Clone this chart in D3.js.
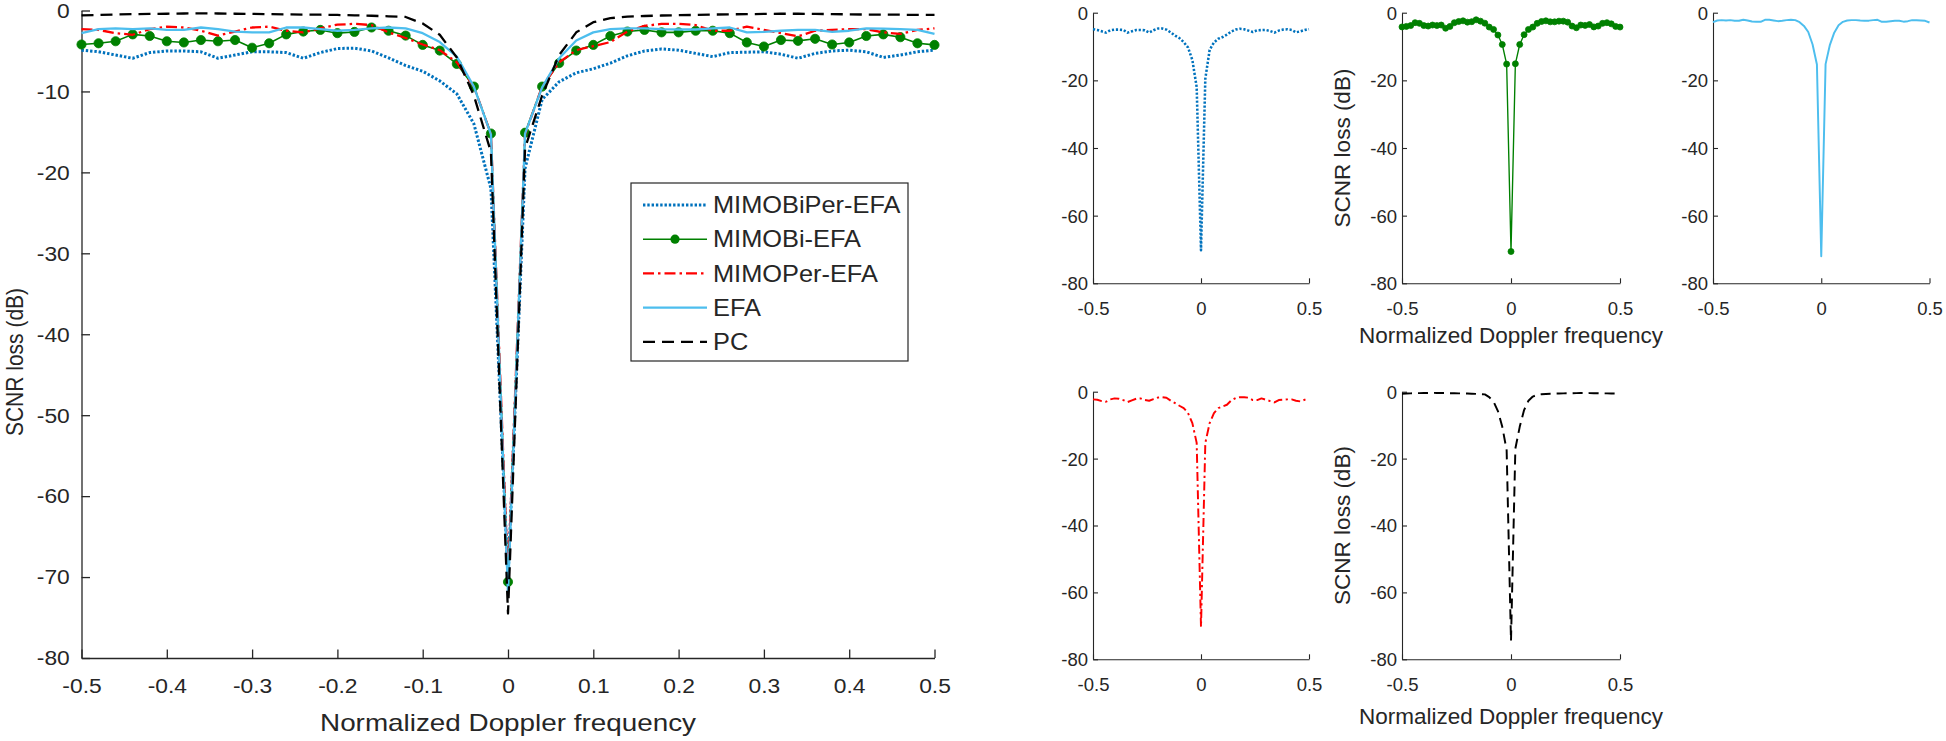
<!DOCTYPE html>
<html><head><meta charset="utf-8">
<script src="https://cdn.jsdelivr.net/npm/d3@7"></script>
<style>
body{margin:0;background:#fff}
text{font-family:"Liberation Sans",Arial,Helvetica,sans-serif;fill:#262626}
</style>
</head><body><script>
// ---------------- data ----------------
const freq = [-0.5,-0.48,-0.46,-0.44,-0.42,-0.4,-0.38,-0.36,-0.34,-0.32,-0.3,-0.28,-0.26,-0.24,-0.22,-0.2,-0.18,-0.16,-0.14,-0.12,-0.1,-0.08,-0.06,-0.04,-0.02,0,
  0.02,0.04,0.06,0.08,0.1,0.12,0.14,0.16,0.18,0.2,0.22,0.24,0.26,0.28,0.3,0.32,0.34,0.36,0.38,0.4,0.42,0.44,0.46,0.48,0.5];

const mimoBiPerEFA = [-4.9,-5.1,-5.5,-5.9,-5.2,-5.0,-5.0,-5.1,-5.9,-5.5,-5.1,-5.1,-5.2,-5.9,-5.2,-4.7,-4.65,-5.0,-5.85,-6.8,-7.5,-8.7,-10.3,-14.0,-22.0,-70.2,
  -19.5,-11.0,-8.8,-7.7,-7.2,-6.5,-5.6,-5.0,-4.75,-4.9,-5.3,-5.7,-5.2,-5.15,-5.1,-5.4,-5.9,-5.3,-5.0,-4.9,-5.1,-5.8,-5.5,-5.1,-4.9];

const mimoBiEFA = [-4.2,-4.05,-3.8,-2.95,-3.15,-3.8,-3.95,-3.65,-3.8,-3.65,-4.6,-4.05,-2.95,-2.6,-2.4,-2.8,-2.65,-2.1,-2.5,-3.1,-4.25,-4.95,-6.6,-9.4,-15.2,-70.6,
  -15.1,-9.4,-6.5,-4.95,-4.25,-3.15,-2.6,-2.4,-2.7,-2.7,-2.5,-2.5,-2.8,-3.95,-4.45,-3.65,-3.75,-3.5,-4.2,-3.95,-3.15,-2.95,-3.3,-4.05,-4.25];

const mimoPerEFA = [-2.3,-2.4,-2.8,-3.0,-2.3,-2.0,-2.1,-2.5,-3.1,-2.6,-2.1,-2.0,-2.5,-2.7,-2.2,-1.75,-1.65,-1.8,-2.7,-3.4,-4.2,-4.9,-6.4,-9.4,-15.3,-70.3,
  -15.3,-9.4,-6.4,-4.9,-4.4,-3.9,-2.6,-1.9,-1.65,-1.65,-1.8,-2.5,-2.5,-2.0,-2.4,-2.8,-3.2,-2.5,-2.4,-2.3,-2.3,-2.7,-2.9,-2.4,-2.2];

const efa = [-2.8,-2.3,-2.2,-2.3,-2.2,-2.4,-2.4,-2.1,-2.3,-2.6,-2.7,-2.7,-2.1,-2.1,-2.3,-2.5,-2.4,-2.2,-2.1,-2.2,-2.8,-3.9,-5.7,-9.4,-15.3,-72.0,
  -15.2,-9.5,-5.9,-3.7,-2.7,-2.3,-2.2,-2.2,-2.3,-2.35,-2.35,-2.2,-2.1,-2.7,-2.65,-2.5,-2.4,-2.4,-2.65,-2.5,-2.2,-2.25,-2.3,-2.4,-2.9];

const pc = [-0.6,-0.55,-0.5,-0.45,-0.42,-0.4,-0.37,-0.35,-0.37,-0.4,-0.42,-0.45,-0.47,-0.5,-0.52,-0.55,-0.6,-0.65,-0.72,-0.8,-1.6,-3.0,-5.8,-10.5,-17.5,-74.5,
  -17.0,-10.5,-5.5,-2.7,-1.45,-0.95,-0.75,-0.68,-0.62,-0.58,-0.55,-0.5,-0.47,-0.45,-0.42,-0.4,-0.4,-0.42,-0.45,-0.47,-0.5,-0.5,-0.52,-0.55,-0.55];

const seriesNames = ["MIMOBiPer-EFA","MIMOBi-EFA","MIMOPer-EFA","EFA","PC"];
const xTicksMain = [-0.5,-0.4,-0.3,-0.2,-0.1,0,0.1,0.2,0.3,0.4,0.5];
const yTicksMain = [0,-10,-20,-30,-40,-50,-60,-70,-80];
const xTicksSmall = [-0.5,0,0.5];
const yTicksSmall = [0,-20,-40,-60,-80];
const xLabel = "Normalized Doppler frequency";
const yLabel = "SCNR loss (dB)";

// ---------------- styles ----------------
const seriesData = [mimoBiPerEFA, mimoBiEFA, mimoPerEFA, efa, pc];
const styles = [
  {color:"#0072BD", dash:"2.4,1.9", dashS:"2.2,1.8", marker:false, lw:3.0},
  {color:"#008000", dash:null, dashS:null, marker:true, lw:1.6},
  {color:"#FF0000", dash:"11,4,2.5,4", dashS:"9,3.5,2.2,3.5", marker:false, lw:2.3},
  {color:"#4DBEEE", dash:null, dashS:null, marker:false, lw:2.3},
  {color:"#000000", dash:"12,7", dashS:"10,6", marker:false, lw:2.3}
];
const axisColor = "#262626";

const svg = d3.select("body").append("svg").attr("width",1946).attr("height",741);

function drawPanel(p){
  const x = d3.scaleLinear().domain([-0.5,0.5]).range([p.x0,p.x1]);
  const y = d3.scaleLinear().domain([-80,0]).range([p.y1,p.y0]);
  const g = svg.append("g");
  const fmt = d => String(d);
  const sx = p.sx || 1;

  const gx = g.append("g").attr("transform",`translate(0,${p.y1})`)
    .call(d3.axisBottom(x).tickValues(p.xTicks).tickFormat(fmt).tickSizeInner(-p.tick).tickSizeOuter(0).tickPadding(p.padX));
  const gy = g.append("g").attr("transform",`translate(${p.x0},0)`)
    .call(d3.axisLeft(y).tickValues(p.yTicks).tickFormat(fmt).tickSizeInner(-p.tick).tickSizeOuter(0).tickPadding(p.padY));
  [gx,gy].forEach(a=>{
    a.selectAll("path.domain").attr("stroke",axisColor).attr("stroke-width",p.axW);
    a.selectAll(".tick line").attr("stroke",axisColor).attr("stroke-width",p.axW);
    a.selectAll(".tick text").attr("font-size",p.tickFont).attr("fill",axisColor)
      .style("font-family",'"Liberation Sans",Arial,sans-serif')
      .attr("transform",`scale(${sx},1)`);
  });
  gx.selectAll(".tick text").attr("dy","0.71em");
  gy.selectAll(".tick text").attr("dy","0.35em");

  p.series.forEach(i=>{
    const st = styles[i];
    const pts = freq.map((f,k)=>[f, seriesData[i][k]]);
    const line = d3.line().x(d=>x(d[0])).y(d=>y(d[1]));
    g.append("path").datum(pts).attr("d",line).attr("fill","none")
      .attr("stroke",st.color).attr("stroke-width",st.lw*p.lwScale)
      .attr("stroke-dasharray", p.small ? st.dashS : st.dash)
      .attr("stroke-linejoin","round");
    if(st.marker){
      g.append("g").selectAll("circle").data(pts).join("circle")
        .attr("cx",d=>x(d[0])).attr("cy",d=>y(d[1])).attr("r",p.markerR)
        .attr("fill",st.color).attr("stroke",st.color).attr("stroke-width",0.8);
    }
  });

  if(p.xlabel){
    g.append("text").attr("transform",`translate(${(p.x0+p.x1)/2},${p.xlabelY}) scale(${sx},1)`)
      .attr("text-anchor","middle").attr("dy","0.35em").attr("font-size",p.labelFont).text(xLabel);
  }
  if(p.ylabel){
    const cy = p.ylabelY !== undefined ? p.ylabelY : (p.y0+p.y1)/2;
    g.append("text").attr("transform",`translate(${p.ylabelX},${cy}) scale(${sx},1) rotate(-90)`)
      .attr("text-anchor","middle").attr("dy","0.35em").attr("font-size",p.ylabelFont||p.labelFont).text(yLabel);
  }
  return {x,y,g};
}

// main panel (its text is horizontally stretched in the reference)
const main = drawPanel({x0:81.5,x1:934.5,y0:10.5,y1:658,xTicks:xTicksMain,yTicks:yTicksMain,
  tick:8.5,padX:21.5,padY:10,tickFont:19.5,labelFont:23.8,ylabelFont:21,ylabelY:362,sx:1.17,axW:1.3,lwScale:1,markerR:4.6,small:false,
  series:[0,1,2,3,4],xlabel:true,xlabelY:723,ylabel:true,ylabelX:14});

// legend
const lg = svg.append("g");
lg.append("rect").attr("x",631).attr("y",183).attr("width",277).attr("height",178)
  .attr("fill","#fff").attr("stroke",axisColor).attr("stroke-width",1.2);
seriesNames.forEach((name,i)=>{
  const st = styles[i];
  const cy = 205 + i*34.2;
  lg.append("line").attr("x1",643).attr("x2",707).attr("y1",cy).attr("y2",cy)
    .attr("stroke",st.color).attr("stroke-width",st.lw).attr("stroke-dasharray",st.dash);
  if(st.marker) lg.append("circle").attr("cx",675).attr("cy",cy).attr("r",4.6).attr("fill",st.color);
  lg.append("text").attr("transform",`translate(713,${cy}) scale(1.08,1)`).attr("dy","0.35em")
    .attr("font-size",23.5).text(name);
});

// small panels
const smallBase = {xTicks:xTicksSmall,yTicks:yTicksSmall,tick:5,padX:18.5,padY:5,tickFont:18.5,labelFont:22.5,
  axW:1.1,lwScale:0.85,markerR:3,small:true};
const colsX = [[1093,1309],[1402,1620],[1713,1929.5]];
const rowsY = [[12.7,283.3],[391.7,659.3]];
const layout = [
  {s:0,c:0,r:0},{s:1,c:1,r:0,lab:true},{s:3,c:2,r:0},
  {s:2,c:0,r:1},{s:4,c:1,r:1,lab:true}
];
layout.forEach(l=>{
  drawPanel(Object.assign({},smallBase,{x0:colsX[l.c][0],x1:colsX[l.c][1],y0:rowsY[l.r][0],y1:rowsY[l.r][1],
    series:[l.s],xlabel:!!l.lab,xlabelY:rowsY[l.r][1]+(l.r===0?52:57),ylabel:!!l.lab,ylabelX:1342.5}));
});
</script></body></html>
